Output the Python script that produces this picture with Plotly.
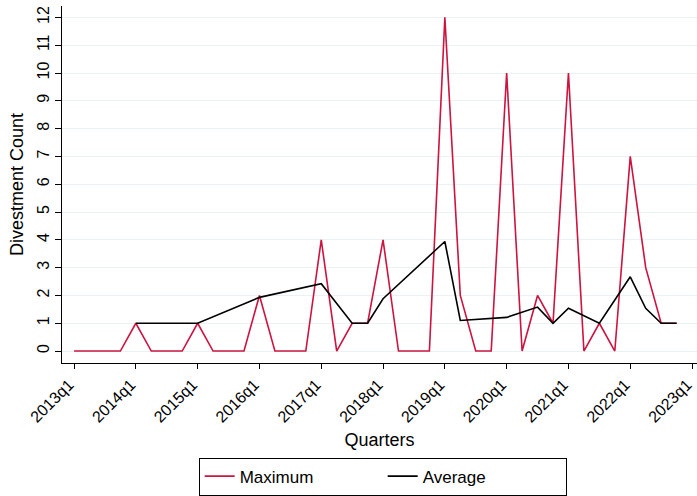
import plotly.graph_objects as go

quarter_labels = [f"{y}q1" for y in range(2013, 2024)]
quarters = list(range(40))  # 2013q1 .. 2022q4 as quarter index
maximum = [0, 0, 0, 0, 1, 0, 0, 0, 1, 0, 0, 0, 2, 0, 0, 0, 4, 0, 1, 1,
           4, 0, 0, 0, 12, 2, 0, 0, 10, 0, 2, 1, 10, 0, 1, 0, 7, 3, 1, 1]
average = [None, None, None, None, 1, None, None, None, 1, None, None, None, 1.93, None, None, None,
           2.42, None, 1, 1, 1.88, None, None, None, 3.94, 1.1, None, None, 1.21, None, 1.58, 1,
           1.54, None, 1, None, 2.67, 1.54, 1, 1]

font = "Arial, Liberation Sans, sans-serif"

fig = go.Figure()
fig.add_trace(go.Scatter(x=quarters, y=maximum, mode="lines", name="Maximum",
                         line=dict(color="#CC1440", width=1.6)))
fig.add_trace(go.Scatter(x=quarters, y=average, mode="lines", name="Average",
                         connectgaps=True, line=dict(color="#000000", width=1.6)))

fig.update_layout(
    width=697, height=496,
    margin=dict(l=62, r=0, t=6, b=133, autoexpand=False),
    paper_bgcolor="white", plot_bgcolor="white",
    font=dict(family=font, size=16, color="black"),
    showlegend=True,
    legend=dict(orientation="h", x=0.505, xanchor="center", y=-0.265, yanchor="top",
                bordercolor="black", borderwidth=1, bgcolor="white",
                font=dict(size=17), entrywidth=138, traceorder="normal"),
    xaxis=dict(range=[-0.78, 40.32], tickmode="array",
               tickvals=list(range(0, 41, 4)), ticktext=quarter_labels,
               tickangle=-45, showgrid=False, zeroline=False, automargin=False,
               showline=True, linecolor="black", linewidth=1,
               ticks="outside", ticklen=5, tickcolor="black",
               tickfont=dict(size=16), ticklabeloverflow="allow",
               ticklabelshift=-5,
               title=dict(text="Quarters", font=dict(size=18), standoff=8)),
    yaxis=dict(range=[-0.43, 12.41], tickmode="array", tickvals=list(range(0, 13)),
               tickangle=-90, showgrid=True, gridcolor="#EAF2F3", gridwidth=1,
               zeroline=False, showline=True, linecolor="black", linewidth=1,
               automargin=False,
               ticks="outside", ticklen=6, tickcolor="black",
               tickfont=dict(size=16),
               title=dict(text="Divestment Count", font=dict(size=18), standoff=6)),
)

fig.write_html("out.html", config={"displayModeBar": False},
               post_script="document.body.style.margin='0';document.body.style.overflow='hidden';")
